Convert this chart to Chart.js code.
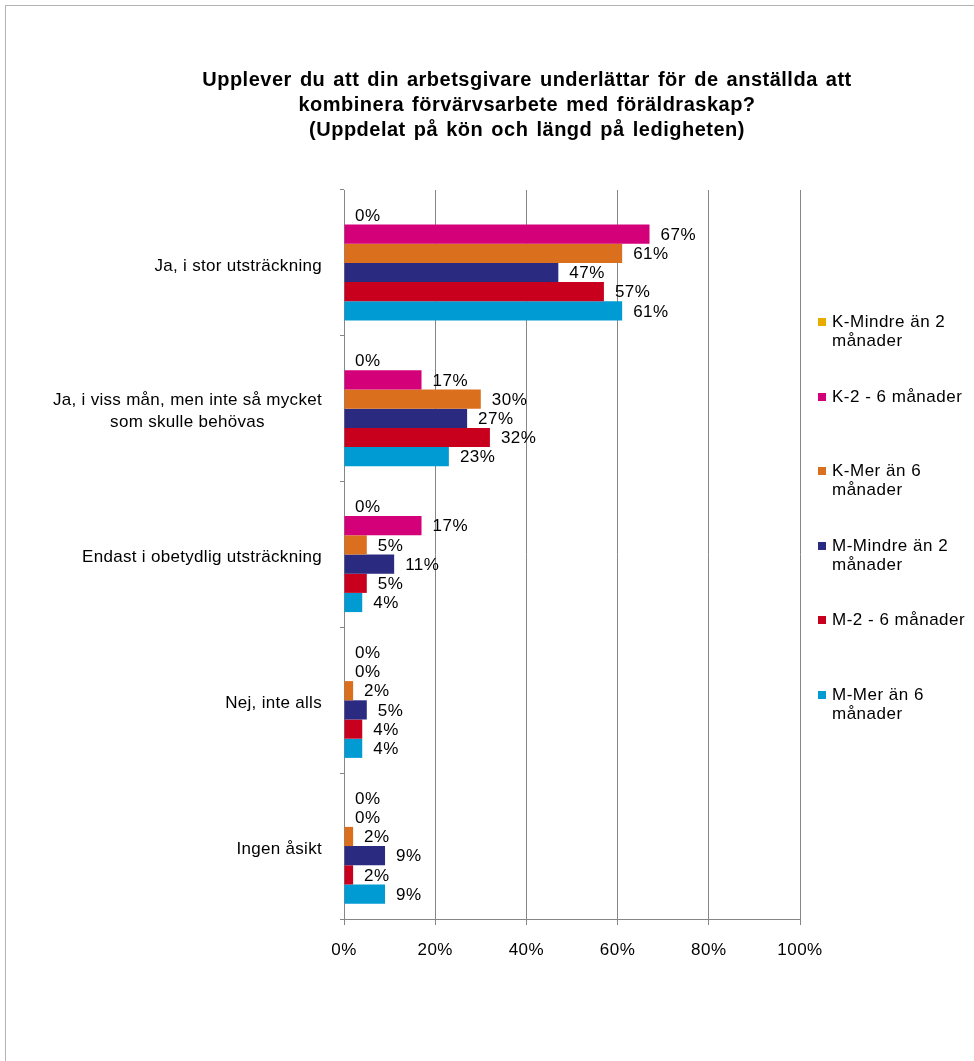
<!DOCTYPE html>
<html>
<head>
<meta charset="utf-8">
<script src="https://cdn.jsdelivr.net/npm/chart.js@4"></script>
<style>
  body { margin: 0; background: #fff; font-family: "Liberation Sans", Arial, sans-serif; }
  #wrap { position: relative; width: 974px; height: 1061px; overflow: hidden; }
  #frame { position: absolute; left: 5px; top: 5px; width: 2000px; height: 2000px;
           border-left: 1px solid #b4b4b4; border-top: 1px solid #b4b4b4; }
  #title { position: absolute; left: 77px; width: 900px; top: 67px; text-align: center;
           font-weight: bold; font-size: 20px; line-height: 25px; color: #000;
           letter-spacing: 0.5px; word-spacing: 2px; }
  #legend { position: absolute; left: 818px; top: 312px; width: 156px; }
  .item { position: relative; height: 74.6px; }
  .swatch { position: absolute; left: 0; top: 6px; width: 8px; height: 8px; }
  .lbl { position: absolute; left: 14px; top: 0; width: 140px; font-size: 17px; line-height: 19px;
         color: #000; letter-spacing: 0.5px; }
  canvas { position: absolute; left: 0; top: 0; }
</style>
</head>
<body>
<div id="wrap">
  <div id="frame"></div>
  <canvas id="chart" width="974" height="1061"></canvas>
  <div id="title">Upplever du att din arbetsgivare underlättar för de anställda att<br>kombinera förvärvsarbete med föräldraskap?<br>(Uppdelat på kön och längd på ledigheten)</div>
  <div id="legend"></div>
</div>
<script>
// categories (top to bottom)
const categories = [
    ['Ja, i stor utsträckning'],
    ['Ja, i viss mån, men inte så mycket', 'som skulle behövas'],
    ['Endast i obetydlig utsträckning'],
    ['Nej, inte alls'],
    ['Ingen åsikt']
];

const seriesNames = [
    'K-Mindre än 2 månader',
    'K-2 - 6 månader',
    'K-Mer än 6 månader',
    'M-Mindre än 2 månader',
    'M-2 - 6 månader',
    'M-Mer än 6 månader'
];
const seriesColors = ['#e6ac00', '#d4007a', '#da701e', '#2a2a80', '#c8001e', '#009bd3'];

// values in percent
const kMindre2 = [0, 0, 0, 0, 0];
const k2till6 = [67, 17, 17, 0, 0];
const kMer6 = [61, 30, 5, 2, 2];
const mMindre2 = [47, 27, 11, 5, 9];
const m2till6 = [57, 32, 5, 4, 2];
const mMer6 = [61, 23, 4, 4, 9];

const xTicks = [0, 20, 40, 60, 80, 100];

const seriesValues = [kMindre2, k2till6, kMer6, mMindre2, m2till6, mMer6];
const FONT = '"Liberation Sans", Arial, sans-serif';

// legend (html, so entries can wrap like the original)
const legendEl = document.getElementById('legend');
seriesNames.forEach((name, i) => {
    const item = document.createElement('div');
    item.className = 'item';
    item.innerHTML = '<span class="swatch" style="background:' + seriesColors[i] + '"></span>' +
        '<span class="lbl">' + name + '</span>';
    legendEl.appendChild(item);
});

// slightly wider text, closer to the original rendering
const spacing = {
    id: 'spacing',
    beforeDraw(chart) { chart.ctx.letterSpacing = '0.5px'; }
};

// value labels just past the end of each bar
const barLabels = {
    id: 'barLabels',
    afterDatasetsDraw(chart) {
        const ctx = chart.ctx;
        ctx.save();
        ctx.font = '17px ' + FONT;
        ctx.fillStyle = '#000';
        ctx.textAlign = 'left';
        ctx.textBaseline = 'middle';
        chart.data.datasets.forEach((ds, di) => {
            chart.getDatasetMeta(di).data.forEach((bar, i) => {
                ctx.fillText(ds.data[i] + '%', bar.x + 11, bar.y + 1);
            });
        });
        ctx.restore();
    }
};

// category names, each block centred line by line, right edge near the axis
const catLabels = {
    id: 'catLabels',
    afterDraw(chart) {
        const ctx = chart.ctx;
        const y = chart.scales.y;
        const right = chart.chartArea.left - 22;
        const lh = 22;
        ctx.save();
        ctx.font = '17px ' + FONT;
        ctx.letterSpacing = '0.3px';
        ctx.fillStyle = '#000';
        ctx.textAlign = 'center';
        ctx.textBaseline = 'middle';
        categories.forEach((lines, i) => {
            const w = Math.max(...lines.map(l => ctx.measureText(l).width));
            const cx = right - w / 2;
            const cy = y.getPixelForValue(i) + 3;
            lines.forEach((l, k) => {
                ctx.fillText(l, cx, cy + (k - (lines.length - 1) / 2) * lh);
            });
        });
        ctx.restore();
    }
};

new Chart(document.getElementById('chart'), {
    type: 'bar',
    data: {
        labels: categories,
        datasets: seriesValues.map((vals, i) => ({
            label: seriesNames[i],
            data: vals,
            backgroundColor: seriesColors[i],
            borderWidth: 0,
            barPercentage: 1.0,
            categoryPercentage: 0.79
        }))
    },
    options: {
        indexAxis: 'y',
        responsive: false,
        animation: false,
        layout: { padding: { top: 190, right: 174, left: 0, bottom: 82 } },
        plugins: {
            legend: { display: false },
            title: { display: false },
            tooltip: { enabled: false }
        },
        scales: {
            x: {
                min: 0,
                max: 100,
                afterBuildTicks: s => { s.ticks = xTicks.map(v => ({ value: v })); },
                afterFit: s => { s.height = 60; },
                grid: { color: '#868686', tickLength: 6, lineWidth: 1 },
                border: { color: '#868686' },
                ticks: {
                    padding: 15,
                    color: '#000',
                    font: { family: FONT, size: 17 },
                    callback: v => v + '%'
                }
            },
            y: {
                afterFit: s => { s.width = 344; },
                grid: { offset: true, drawOnChartArea: false, tickLength: 4, color: '#868686' },
                border: { color: '#868686' },
                ticks: { display: false }
            }
        }
    },
    plugins: [spacing, barLabels, catLabels]
});
</script>
</body>
</html>
